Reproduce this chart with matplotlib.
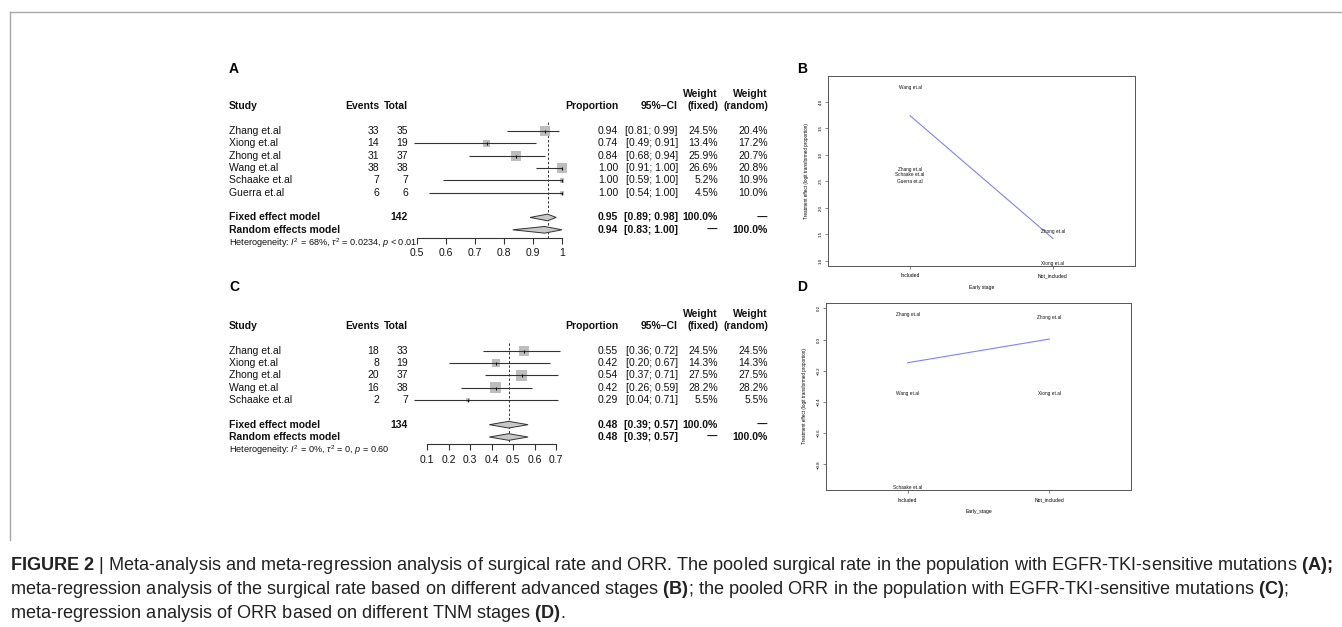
import matplotlib
matplotlib.use('Agg')
import matplotlib.pyplot as plt
from matplotlib.patches import Polygon
from matplotlib.lines import Line2D
from matplotlib.transforms import blended_transform_factory
from matplotlib import font_manager
import numpy as np

W, H, DPI = 1342, 627, 100

avail = {f.name for f in font_manager.fontManager.ttflist}
CAP_FONT = 'Liberation Sans Narrow' if 'Liberation Sans Narrow' in avail else 'Liberation Sans'

plt.rcParams['font.family'] = ['Liberation Sans', 'DejaVu Sans']
plt.rcParams['mathtext.fontset'] = 'custom'
plt.rcParams['mathtext.rm'] = 'Liberation Sans'
plt.rcParams['mathtext.it'] = 'Liberation Sans:italic'
plt.rcParams['mathtext.bf'] = CAP_FONT + ':bold'

# ---------------- Panel A data (surgical rate) ----------------
a_studies = ["Zhang et.al", "Xiong et.al", "Zhong et.al", "Wang et.al", "Schaake et.al", "Guerra et.al"]
a_events = [33, 14, 31, 38, 7, 6]
a_totals = [35, 19, 37, 38, 7, 6]
a_prop = [0.94, 0.74, 0.84, 1.00, 1.00, 1.00]
a_lower = [0.81, 0.49, 0.68, 0.91, 0.59, 0.54]
a_upper = [0.99, 0.91, 0.94, 1.00, 1.00, 1.00]
a_w_fixed = [24.5, 13.4, 25.9, 26.6, 5.2, 4.5]
a_w_random = [20.4, 17.2, 20.7, 20.8, 10.9, 10.0]
a_fixed = [0.95, 0.89, 0.98]
a_random = [0.94, 0.83, 1.00]
a_total_n = 142
a_het = r"Heterogeneity: $I^2$ = 68%, $\tau^2$ = 0.0234, $p$ < 0.01"
a_ticks = [0.5, 0.6, 0.7, 0.8, 0.9, 1.0]

# ---------------- Panel C data (ORR) ----------------
c_studies = ["Zhang et.al", "Xiong et.al", "Zhong et.al", "Wang et.al", "Schaake et.al"]
c_events = [18, 8, 20, 16, 2]
c_totals = [33, 19, 37, 38, 7]
c_prop = [0.55, 0.42, 0.54, 0.42, 0.29]
c_lower = [0.36, 0.20, 0.37, 0.26, 0.04]
c_upper = [0.72, 0.67, 0.71, 0.59, 0.71]
c_w_fixed = [24.5, 14.3, 27.5, 28.2, 5.5]
c_w_random = [24.5, 14.3, 27.5, 28.2, 5.5]
c_fixed = [0.48, 0.39, 0.57]
c_random = [0.48, 0.39, 0.57]
c_total_n = 134
c_het = r"Heterogeneity: $I^2$ = 0%, $\tau^2$ = 0, $p$ = 0.60"
c_ticks = [0.1, 0.2, 0.3, 0.4, 0.5, 0.6, 0.7]

# ---------------- Panel B data (meta-regression) ----------------
b_labels = ["Wang et.al", "Zhang et.al", "Schaake et.al", "Guerra et.al", "Zhong et.al", "Xiong et.al"]
b_group = [1, 1, 1, 1, 2, 2]
b_effect = [4.26, 2.725, 2.636, 2.49, 1.56, 0.95]
b_fit = [3.736, 1.42]
b_yticks = [1.0, 1.5, 2.0, 2.5, 3.0, 3.5, 4.0]

# ---------------- Panel D data (meta-regression) ----------------
d_labels = ["Zhang et.al", "Zhong et.al", "Wang et.al", "Xiong et.al", "Schaake et.al"]
d_group = [1, 2, 1, 2, 1]
d_effect = [0.163, 0.142, -0.345, -0.345, -0.947]
d_fit = [-0.149, 0.003]
d_yticks = [-0.8, -0.6, -0.4, -0.2, 0.0, 0.2]

categories = ["Included", "Not_included"]
ylab = "Treatment effect (logit transformed proportion)"

caption_lines = [
    r"$\mathbf{FIGURE\ 2}$ | Meta-analysis and meta-regression analysis of surgical rate and ORR. The pooled surgical rate in the population with EGFR-TKI-sensitive mutations $\mathbf{(A);}$",
    r"meta-regression analysis of the surgical rate based on different advanced stages $\mathbf{(B)}$; the pooled ORR in the population with EGFR-TKI-sensitive mutations $\mathbf{(C)}$;",
    r"meta-regression analysis of ORR based on different TNM stages $\mathbf{(D)}$.",
]

fig = plt.figure(figsize=(W / DPI, H / DPI), dpi=DPI)
fig.patch.set_facecolor('white')


def rect(l, t, r, b):
    return [l / W, 1 - b / H, (r - l) / W, (b - t) / H]


TXT = '#111111'
FS = 7.5
DASH2 = '\u2013\u2013'


def forest(letter, letter_y, studies, events, totals, prop, lo, hi, wf, wr,
           fixed, random, total_n, het, ticks, x0px, x1px, row1_px, step, axis_px, dash_top):
    n = len(studies)
    top_px = row1_px - step
    bottom_row = (axis_px - top_px) / step
    ax = fig.add_axes(rect(x0px, top_px, x1px, axis_px))
    ax.set_xlim(ticks[0], ticks[-1])
    ax.set_ylim(bottom_row, 0)
    ax.patch.set_alpha(0)
    for s in ['top', 'left', 'right']:
        ax.spines[s].set_visible(False)
    ax.spines['bottom'].set_color('#333333')
    ax.spines['bottom'].set_linewidth(0.8)
    ax.set_yticks([])
    ax.set_xticks(ticks)
    ax.set_xticklabels([f'{t:g}' for t in ticks])
    ax.tick_params(axis='x', length=4.3, width=0.8, color='#333333', labelsize=FS,
                   pad=3.2, direction='out', labelcolor=TXT)

    rows = np.arange(1, n + 1)
    side_pt = 2.0 * np.sqrt(np.array(wf)) * 72 / DPI
    ax.scatter(prop, rows, marker='s', s=side_pt ** 2, color='#bdbdbd', lw=0,
               zorder=2, clip_on=False)
    ax.hlines(rows, lo, hi, color='#333333', lw=0.8, clip_on=False, zorder=3)
    ax.scatter(prop, rows, marker='|', s=(3.0 * 72 / DPI) ** 2, color='#111111',
               lw=0.8, zorder=4, clip_on=False)

    fr, rr = n + 2, n + 3
    dh = 0.27
    for (est, l, h), r in [(fixed, fr), (random, rr)]:
        ax.add_patch(Polygon([[l, r], [est, r - dh], [h, r], [est, r + dh]], closed=True,
                             fc='#c8c8c8', ec='#333333', lw=0.7, clip_on=False, zorder=3))
    ax.vlines(fixed[0], dash_top, bottom_row, colors='#333333',
              linestyles=(0, (2.5, 2.0)), lw=0.7, zorder=1)

    tr = blended_transform_factory(fig.transFigure, ax.transData)

    def T(xpx, row, s, ha='left', bold=False, size=FS):
        ax.text(xpx / W, row, s, transform=tr, ha=ha, va='center', fontsize=size,
                fontweight='bold' if bold else 'normal', color=TXT, clip_on=False)

    fig.text(229 / W, 1 - letter_y / H, letter, fontsize=10, fontweight='bold',
             ha='left', va='center', color='black')
    # headers
    T(229, -1, 'Study', bold=True)
    T(379, -1, 'Events', ha='right', bold=True)
    T(408, -1, 'Total', ha='right', bold=True)
    T(618, -1, 'Proportion', ha='right', bold=True)
    T(678, -1, '95%\u2013CI', ha='right', bold=True)
    T(718, -2, 'Weight', ha='right', bold=True)
    T(768, -2, 'Weight', ha='right', bold=True)
    T(718, -1, '(fixed)', ha='right', bold=True)
    T(768, -1, '(random)', ha='right', bold=True)
    for i in range(n):
        r = i + 1
        T(229, r, studies[i])
        T(379, r, str(events[i]), ha='right')
        T(408, r, str(totals[i]), ha='right')
        T(618, r, f'{prop[i]:.2f}', ha='right')
        T(678, r, f'[{lo[i]:.2f}; {hi[i]:.2f}]', ha='right')
        T(718, r, f'{wf[i]:.1f}%', ha='right')
        T(768, r, f'{wr[i]:.1f}%', ha='right')
    T(229, fr, 'Fixed effect model', bold=True)
    T(408, fr, str(total_n), ha='right', bold=True)
    T(618, fr, f'{fixed[0]:.2f}', ha='right', bold=True)
    T(678, fr, f'[{fixed[1]:.2f}; {fixed[2]:.2f}]', ha='right', bold=True)
    T(718, fr, '100.0%', ha='right', bold=True)
    T(768, fr, DASH2, ha='right', bold=True)
    T(229, rr, 'Random effects model', bold=True)
    T(618, rr, f'{random[0]:.2f}', ha='right', bold=True)
    T(678, rr, f'[{random[1]:.2f}; {random[2]:.2f}]', ha='right', bold=True)
    T(718, rr, DASH2, ha='right', bold=True)
    T(768, rr, '100.0%', ha='right', bold=True)
    T(229, n + 4.05, het, size=6.6)
    return ax


forest('A', 69, a_studies, a_events, a_totals, a_prop, a_lower, a_upper, a_w_fixed,
       a_w_random, a_fixed, a_random, a_total_n, a_het, a_ticks,
       417, 562, 131.0, 12.35, 237.7, 0.25)
forest('C', 287, c_studies, c_events, c_totals, c_prop, c_lower, c_upper, c_w_fixed,
       c_w_random, c_fixed, c_random, c_total_n, c_het, c_ticks,
       427, 556, 350.7, 12.33, 444.3, 0.35)


def metareg(letter, letter_y, rpx, xlim, ylim, yticks, labels, groups, effects, fit, xlabel):
    ax = fig.add_axes(rect(*rpx))
    ax.set_xlim(xlim)
    ax.set_ylim(ylim)
    for s in ax.spines.values():
        s.set_color('#555555')
        s.set_linewidth(0.7)
    ax.set_yticks(yticks)
    ax.set_yticklabels([f'{v:.1f}'.replace('-', '\u2212') for v in yticks],
                       rotation=90, va='center', fontsize=3.2)
    ax.set_xticks([1, 2])
    ax.set_xticklabels(categories, fontsize=3.6)
    ax.tick_params(axis='x', length=2, width=0.5, color='#555555', pad=3.5)
    ax.tick_params(axis='y', length=2, width=0.5, color='#555555', pad=1.8)
    ax.plot([1, 2], fit, color='#8080ff', lw=0.8)
    for lab, g, e in zip(labels, groups, effects):
        ax.text(g, e, lab, ha='center', va='center', fontsize=3.4, color='#111111')
    ax.set_xlabel(xlabel, fontsize=3.6, labelpad=4.8)
    ax.set_ylabel(ylab, fontsize=3.3, labelpad=7.0)
    fig.text(797 / W, 1 - letter_y / H, letter, fontsize=10, fontweight='bold',
             ha='left', va='center', color='black')
    return ax


metareg('B', 69, (828, 76, 1135, 265.7), (0.425, 2.575), (0.906, 4.485), b_yticks,
        b_labels, b_group, b_effect, b_fit, 'Early stage')
metareg('D', 287, (826, 302.7, 1131, 490), (0.425, 2.575), (-0.965, 0.236), d_yticks,
        d_labels, d_group, d_effect, d_fit, 'Early_stage')

# frame lines of the figure box
fig.add_artist(Line2D([9.5 / W, 1.0], [1 - 12 / H, 1 - 12 / H], color='#a8a8a8', lw=1.0))
fig.add_artist(Line2D([9.5 / W, 9.5 / W], [1 - 12 / H, 1 - 540 / H], color='#a8a8a8', lw=1.0))

# caption, size fitted so the first line spans like the reference
renderer = fig.canvas.get_renderer()
probe = fig.text(0, 0, caption_lines[0], fontsize=10, family=CAP_FONT)
wpx = probe.get_window_extent(renderer=renderer).width
probe.remove()
cap_size = 10 * 1325 / wpx
for line, ypx in zip(caption_lines, [565, 589, 613]):
    fig.text(10 / W, 1 - ypx / H, line, fontsize=cap_size, family=CAP_FONT,
             ha='left', va='center', color='#222222')

fig.savefig('out.png', dpi=DPI, facecolor='white')
